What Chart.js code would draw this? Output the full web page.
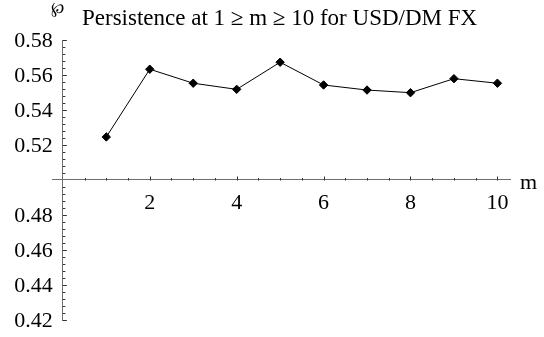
<!DOCTYPE html>
<html>
<head>
<meta charset="utf-8">
<script src="https://cdn.jsdelivr.net/npm/chart.js@4"></script>
<style>
  html, body { margin: 0; padding: 0; background: #fff; }
  canvas { display: block; }
</style>
</head>
<body>
<canvas id="persistenceChart" width="544" height="337"></canvas>
<script>
// lag m and the persistence value
const mValues = [1, 2, 3, 4, 5, 6, 7, 8, 9, 10];
const persistence = [0.5246, 0.5633, 0.5553, 0.5518, 0.5673, 0.5543, 0.5514, 0.5499, 0.5579, 0.5553];

// labelled ticks
const xTickLabels = [2, 4, 6, 8, 10];
const yTickLabels = [0.42, 0.44, 0.46, 0.48, 0.52, 0.54, 0.56, 0.58];

const titleText = 'Persistence at 1 \u2265 m \u2265 10 for USD/DM FX';
const titleSymbol = '\u2118';
const axisLabelX = 'm';

const serif = '"Liberation Serif", "Times New Roman", serif';
const axisColor = '#6e6e6e';

// minor tick positions (every 0.5 on x, every 0.004 on y)
const xTicks = [];
for (let i = 1; i <= 20; i++) xTicks.push(i / 2);
const yTicks = [];
for (let i = 0; i <= 40; i++) yTicks.push(Math.round((0.42 + i * 0.004) * 1000) / 1000);

function isMajor(list, v) {
  return list.some(t => Math.abs(t - v) < 1e-9);
}

// Mathematica style ticks pointing into the plot, y labels, title, axis label
const decorations = {
  id: 'decorations',
  afterDraw(chart) {
    const c = chart.ctx;
    const xs = chart.scales.x;
    const ys = chart.scales.y;
    const axisY = Math.round(ys.getPixelForValue(0.5)) + 0.5;
    const axisX = xs.getPixelForValue(0);

    c.save();
    c.strokeStyle = '#333';
    c.lineWidth = 1;
    c.beginPath();
    xTicks.forEach(v => {
      const px = Math.round(xs.getPixelForValue(v)) + 0.5;
      const len = isMajor(xTickLabels, v) ? 4 : 2.5;
      c.moveTo(px, axisY);
      c.lineTo(px, axisY - len);
    });
    yTicks.forEach(v => {
      if (Math.abs(v - 0.5) < 1e-9) return;
      const py = Math.round(ys.getPixelForValue(v)) + 0.5;
      const len = isMajor(yTickLabels, v) ? 4 : 2.5;
      c.moveTo(axisX, py);
      c.lineTo(axisX + len, py);
    });
    c.stroke();

    c.fillStyle = '#000';
    c.font = '22px ' + serif;

    // y tick labels, kept clear of the axis
    c.textAlign = 'right';
    c.textBaseline = 'middle';
    yTickLabels.forEach(v => {
      c.fillText(v.toFixed(2), axisX - 10, ys.getPixelForValue(v) + 1);
    });

    // axis label m
    c.textAlign = 'left';
    c.textBaseline = 'alphabetic';
    c.fillText(axisLabelX, chart.chartArea.right + 10, axisY + 8);

    // title
    c.font = '23px ' + serif;
    c.fillText(titleText, 82, 25);
    c.font = '16px "DejaVu Serif", serif';
    c.fillText(titleSymbol, 51, 13);
    c.restore();
  }
};

const ctx = document.getElementById('persistenceChart').getContext('2d');

new Chart(ctx, {
  type: 'scatter',
  data: {
    datasets: [{
      data: mValues.map((m, i) => ({ x: m, y: persistence[i] })),
      showLine: true,
      borderColor: '#000',
      borderWidth: 1,
      backgroundColor: '#000',
      pointStyle: 'rectRot',
      pointRadius: 4.2,
      pointHoverRadius: 4.2,
      tension: 0
    }]
  },
  options: {
    responsive: false,
    animation: false,
    devicePixelRatio: 1,
    layout: { padding: { left: 52, right: 34, top: 40, bottom: 17 } },
    plugins: {
      legend: { display: false },
      tooltip: { enabled: false },
      title: { display: false }
    },
    scales: {
      x: {
        type: 'linear',
        min: -0.25,
        max: 10.29,
        position: { y: 0.5 },
        afterBuildTicks: scale => { scale.ticks = xTickLabels.map(v => ({ value: v })); },
        ticks: {
          padding: 10,
          color: '#000',
          font: { family: serif, size: 22 },
          maxRotation: 0,
          autoSkip: false,
          callback: v => String(v)
        },
        grid: { display: false, drawTicks: false },
        border: { display: true, color: axisColor, width: 1 }
      },
      y: {
        type: 'linear',
        min: 0.42,
        max: 0.58,
        position: { x: 0 },
        afterBuildTicks: scale => { scale.ticks = yTickLabels.map(v => ({ value: v })); },
        ticks: { display: false },
        grid: { display: false, drawTicks: false },
        border: { display: true, color: axisColor, width: 1 }
      }
    }
  },
  plugins: [decorations]
});
</script>
</body>
</html>
